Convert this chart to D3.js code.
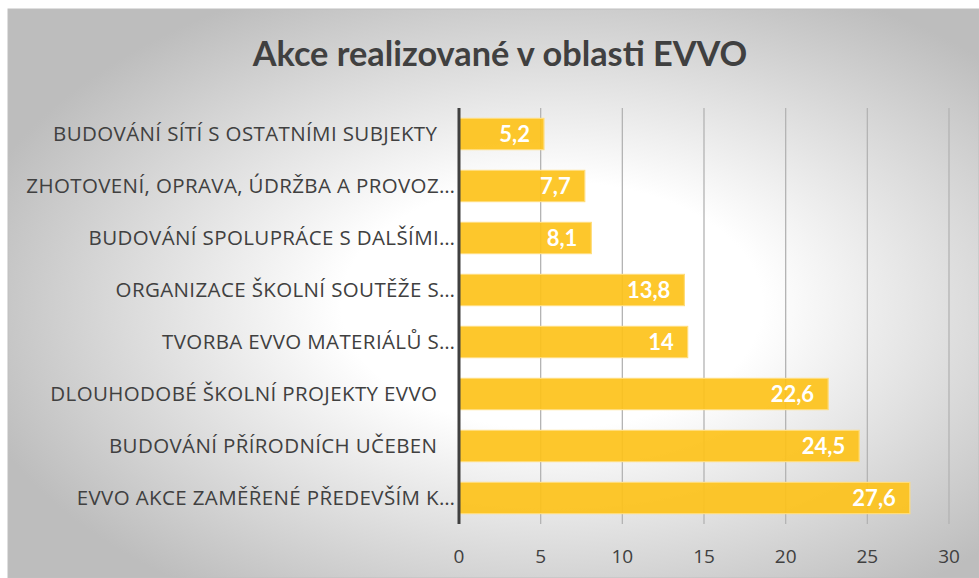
<!DOCTYPE html>
<html><head><meta charset="utf-8">
<script src="https://cdn.jsdelivr.net/npm/d3@7"></script>
<style>html,body{margin:0;padding:0;background:#fff;}svg{display:block;}</style>
</head><body>
<script>
const title = "Akce realizované v oblasti EVVO";
const categories = [
  "BUDOVÁNÍ SÍTÍ S OSTATNÍMI SUBJEKTY",
  "ZHOTOVENÍ, OPRAVA, ÚDRŽBA A PROVOZ…",
  "BUDOVÁNÍ SPOLUPRÁCE S DALŠÍMI…",
  "ORGANIZACE ŠKOLNÍ SOUTĚŽE S…",
  "TVORBA EVVO MATERIÁLŮ S…",
  "DLOUHODOBÉ ŠKOLNÍ PROJEKTY EVVO",
  "BUDOVÁNÍ PŘÍRODNÍCH UČEBEN",
  "EVVO AKCE ZAMĚŘENÉ PŘEDEVŠÍM K…"
];
const values = [5.2, 7.7, 8.1, 13.8, 14, 22.6, 24.5, 27.6];
const ticks = [0, 5, 10, 15, 20, 25, 30];

const W = 979, H = 578;
const svg = d3.select("body").append("svg").attr("width", W).attr("height", H);
const defs = svg.append("defs");
const grad = defs.append("radialGradient").attr("id", "bg")
  .attr("cx", "56%").attr("cy", "52%").attr("r", "62%").attr("fx","56%").attr("fy","52%");
grad.append("stop").attr("offset", "0%").attr("stop-color", "#ffffff");
grad.append("stop").attr("offset", "35%").attr("stop-color", "#ffffff");
grad.append("stop").attr("offset", "100%").attr("stop-color", "#bdbdbd");

svg.append("rect").attr("x", 8).attr("y", 9).attr("width", W - 8).attr("height", H - 9)
  .attr("fill", "url(#bg)").attr("stroke", "#bfbfbf").attr("stroke-width", 1);

const font = "Lato, 'Open Sans', sans-serif";
const font2 = "'Open Sans', Lato, sans-serif";
const x = d3.scaleLinear().domain([0, 30]).range([459, 949]);
const y = d3.scaleBand().domain(categories).range([108, 524]).paddingInner(0.4).paddingOuter(0.2);

// title
svg.append("text").attr("x", 500).attr("y", 66).attr("text-anchor", "middle")
  .attr("font-family", font).attr("font-weight", "bold").attr("font-size", 34.3)
  .attr("fill", "#404040").text(title);

// gridlines
svg.append("g").selectAll("line").data(ticks.slice(1)).join("line")
  .attr("x1", d => x(d)).attr("x2", d => x(d)).attr("y1", 108).attr("y2", 524)
  .attr("stroke", "#b3b3b3").attr("stroke-width", 1.3);

// bars
svg.append("g").selectAll("rect").data(values).join("rect")
  .attr("x", x(0)).attr("y", (d, i) => y(categories[i]))
  .attr("width", d => x(d) - x(0)).attr("height", y.bandwidth())
  .attr("fill", "#fdc21a").attr("fill-opacity", 0.92)
  .attr("stroke", "#ffdc7a").attr("stroke-width", 1.2);

// value labels
svg.append("g").selectAll("text").data(values).join("text")
  .attr("x", d => x(d) - 14).attr("y", (d, i) => y(categories[i]) + y.bandwidth() / 2 + 7.5)
  .attr("text-anchor", "end").attr("font-family", font).attr("font-weight", "bold")
  .attr("font-size", 22).attr("fill", "#ffffff")
  .text(d => String(d).replace(".", ","));

// category labels
const catLabels = svg.append("g").selectAll("text").data(categories).join("text")
  .attr("x", d => d.endsWith("…") ? 455 : 437)
  .attr("y", d => y(d) + y.bandwidth() / 2 + 7)
  .attr("text-anchor", "end").attr("font-family", font2).attr("font-size", 20.5)
  .attr("fill", "#404040").text(d => d);
// fit widest label to the reference width via letter spacing
let maxW = 0, maxN = 1;
catLabels.each(function(d) { const w = this.getComputedTextLength(); if (w > maxW) { maxW = w; maxN = d.length; } });
const ls = Math.max(-1, Math.min(2, (429 - maxW) / maxN));
catLabels.attr("letter-spacing", ls)
  .attr("x", d => (d.endsWith("…") ? 455 : 437) + ls);

// axis line
svg.append("line").attr("x1", x(0)).attr("x2", x(0)).attr("y1", 108).attr("y2", 524)
  .attr("stroke", "#404040").attr("stroke-width", 3);

// x tick labels
svg.append("g").selectAll("text").data(ticks).join("text")
  .attr("x", d => x(d)).attr("y", 563).attr("text-anchor", "middle")
  .attr("font-family", font2).attr("font-size", 19).attr("fill", "#404040")
  .text(d => d);
</script>
</body></html>
